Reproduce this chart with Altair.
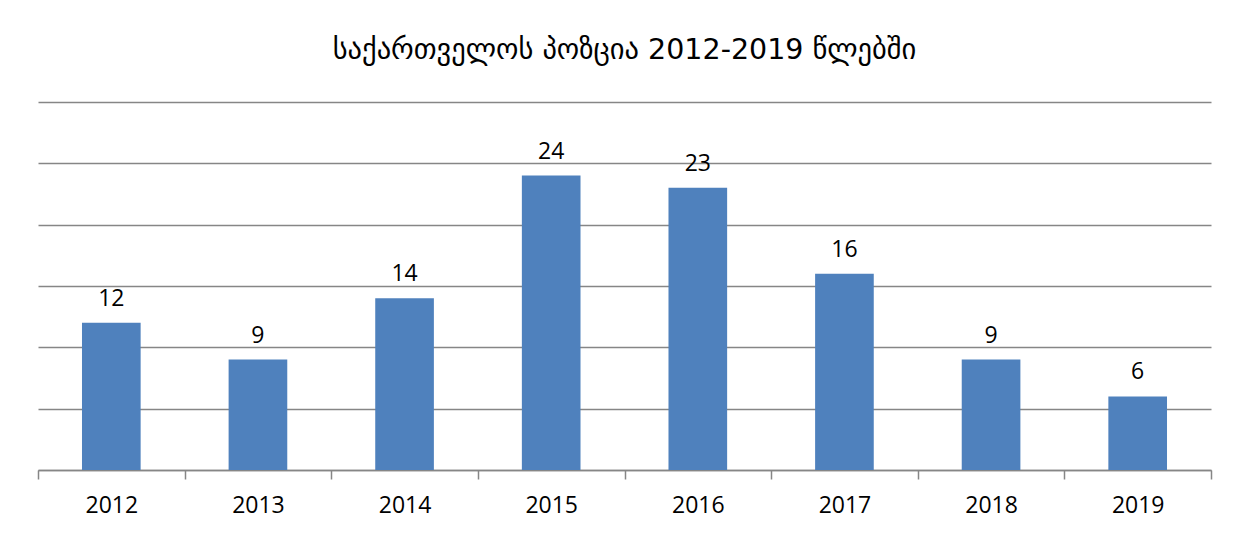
import altair as alt
import pandas as pd

years = ["2012", "2013", "2014", "2015", "2016", "2017", "2018", "2019"]
values = [12, 9, 14, 24, 23, 16, 9, 6]
title_text = "საქართველოს პოზცია 2012-2019 წლებში"

df = pd.DataFrame({"year": years, "value": values})

FONT = "Open Sans"

x = alt.X("year:N", sort=years, title=None,
          scale=alt.Scale(paddingInner=0, paddingOuter=0),
          axis=alt.Axis(labelAngle=0, labelFont=FONT, labelFontSize=23, labelColor="#000000",
                        tickBand="extent", tickSize=9, tickColor="#868686", tickWidth=1.5,
                        domainColor="#868686", domainWidth=1.5, labelPadding=15, grid=False))
y = alt.Y("value:Q", title=None,
          scale=alt.Scale(domain=[0, 30], nice=False),
          axis=alt.Axis(values=[0, 5, 10, 15, 20, 25, 30], labels=False, ticks=False, domain=False,
                        grid=True, gridColor="#868686", gridWidth=1.5))

base = alt.Chart(df)
bars = base.mark_bar(color="#4F81BD", width=alt.RelativeBandSize(0.4)).encode(x=x, y=y)
labels = base.mark_text(font=FONT, fontSize=23, color="#000000", dy=-17, baseline="alphabetic").encode(
    x=alt.X("year:N", sort=years), y="value:Q", text="value:Q")

chart = (bars + labels).properties(
    width=1173, height=368,
    autosize=alt.AutoSizeParams(type="none"),
    padding={"left": 30, "top": 94, "right": 29, "bottom": 55},
    title=alt.TitleParams(title_text, font="DejaVu Sans", fontSize=28.5, fontWeight="normal",
                          color="#000000", offset=38, anchor="middle"),
).configure_view(stroke=None)

chart.save("out.html", embed_options={"renderer": "svg", "actions": False})
